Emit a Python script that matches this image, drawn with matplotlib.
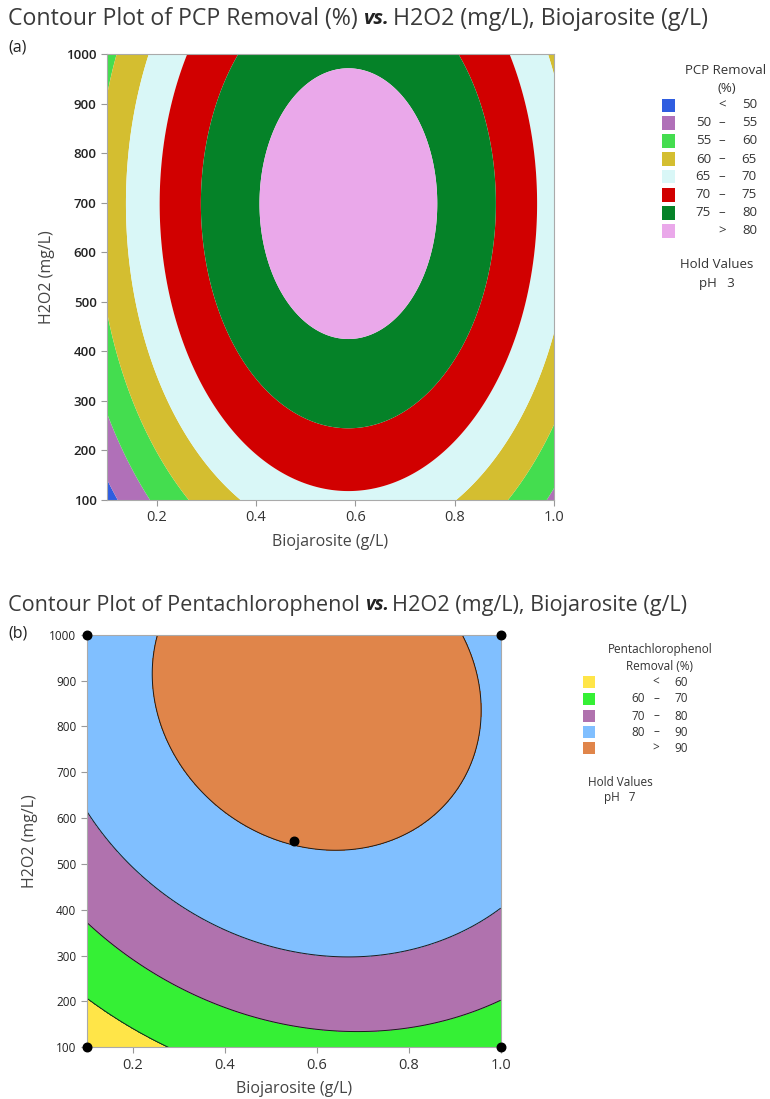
import matplotlib
matplotlib.use("Agg")
import matplotlib.pyplot as plt
from matplotlib.patches import Rectangle
import numpy as np

W, H = 770, 1099

# fitted quadratic response surfaces: z = peak - kx*(x-x0)^2 - ky*(y-y0)^2 - kxy*(x-x0)*(y-y0)
# (a) PCP removal, pH held at 3
a_peak = 82.85
a_center = (0.586, 698.0)
a_curv = (89.0, 3.82e-5, 0.0)
a_levels = [50, 55, 60, 65, 70, 75, 80]
a_colors = ["#2F5DE0", "#B070B8", "#44DD4F", "#D4BE30", "#D9F7F7", "#D10000", "#058228", "#EAA8EA"]
a_labels = [("", "<", "50"), ("50", "–", "55"), ("55", "–", "60"), ("60", "–", "65"),
            ("65", "–", "70"), ("70", "–", "75"), ("75", "–", "80"), ("", ">", "80")]

# (b) pentachlorophenol removal, pH held at 7
b_peak = 95.55
b_center = (0.600, 875.0)
b_curv = (44.0, 47.2e-6, 10.5e-3)
b_levels = [60, 70, 80, 90]
b_colors = ["#FFE548", "#35F035", "#B072AE", "#80BFFF", "#E0854A"]
b_labels = [("", "<", "60"), ("60", "–", "70"), ("70", "–", "80"), ("80", "–", "90"), ("", ">", "90")]

# design points shown on panel (b)
design_bio = [0.1, 0.1, 1.0, 1.0, 0.55]
design_h2o2 = [100, 1000, 100, 1000, 550]

x_ticks = [0.2, 0.4, 0.6, 0.8, 1.0]
y_ticks = list(range(100, 1001, 100))

FONT = "Open Sans"
plt.rcParams["font.family"] = [FONT, "DejaVu Sans"]


def fx(px):
    return px / W


def fy(py):
    return 1 - py / H


def surface(peak, center, curv, X, Y):
    dx = X - center[0]
    dy = Y - center[1]
    return peak - curv[0] * dx ** 2 - curv[1] * dy ** 2 - curv[2] * dx * dy


def title_with_vs(fig, x, y, before, after, size):
    r = fig.canvas.get_renderer()
    t1 = fig.text(x, y, before, fontsize=size, color="#3a3a3a", va="center")
    bb = t1.get_window_extent(r)
    t2 = fig.text(bb.x1 / fig.bbox.width, y, "vs.", fontsize=size - 2, color="#222222",
                  fontweight="bold", fontstyle="italic", va="center")
    bb2 = t2.get_window_extent(r)
    fig.text(bb2.x1 / fig.bbox.width + 0.004, y, after, fontsize=size, color="#3a3a3a", va="center")


def style_axes(ax, ytick_size, ytick_weight):
    ax.set_xlim(0.1, 1.0)
    ax.set_ylim(100, 1000)
    ax.set_xticks(x_ticks)
    ax.set_xticklabels([f"{v:.1f}" for v in x_ticks])
    ax.set_yticks(y_ticks)
    ax.tick_params(axis="x", labelsize=10.5, colors="#333333", length=4, color="#999999")
    ax.tick_params(axis="y", labelsize=ytick_size, colors="#222222", length=4, color="#999999")
    for lab in ax.get_yticklabels():
        lab.set_fontweight(ytick_weight)
    for s in ax.spines.values():
        s.set_color("#aaaaaa")
        s.set_linewidth(0.8)
    ax.set_xlabel("Biojarosite (g/L)", fontsize=11.5, color="#444444", labelpad=6)
    ax.set_ylabel("H2O2 (mg/L)", fontsize=11.5, color="#444444", labelpad=8)


def legend_block(fig, header, entries, colors, sq_x, sq_size, ys, cols, size, header_ys, hold_ys, ph):
    for i, ttl in enumerate(header):
        fig.text(fx(header_ys[i][0]), fy(header_ys[i][1]), ttl, fontsize=size, color="#333333",
                 ha="center", va="center")
    lo_x, dash_x, hi_x = cols
    for (lo, sym, hi), c, yy in zip(entries, colors, ys):
        fig.patches.append(Rectangle((fx(sq_x), fy(yy + sq_size / 2)), sq_size / W, sq_size / H,
                                     transform=fig.transFigure, facecolor=c, edgecolor="none"))
        if lo:
            fig.text(fx(lo_x), fy(yy), lo, fontsize=size, color="#333333", ha="right", va="center")
        fig.text(fx(dash_x), fy(yy), sym, fontsize=size, color="#333333", ha="center", va="center")
        fig.text(fx(hi_x), fy(yy), hi, fontsize=size, color="#333333", ha="right", va="center")
    fig.text(fx(hold_ys[0][0]), fy(hold_ys[0][1]), "Hold Values", fontsize=size, color="#333333",
             ha="center", va="center")
    fig.text(fx(hold_ys[1][0]), fy(hold_ys[1][1]), f"pH   {ph}", fontsize=size, color="#333333",
             ha="center", va="center")


fig = plt.figure(figsize=(W / 100, H / 100), dpi=100)
fig.patch.set_facecolor("white")

xg = np.linspace(0.1, 1.0, 400)
yg = np.linspace(100, 1000, 400)
X, Y = np.meshgrid(xg, yg)

# panel (a)
ax1 = fig.add_axes([fx(107), fy(500), (554 - 107) / W, (500 - 54) / H])
Za = surface(a_peak, a_center, a_curv, X, Y)
ax1.contourf(X, Y, Za, levels=[-1e9] + a_levels + [1e9], colors=a_colors, antialiased=True)
style_axes(ax1, 9.5, "semibold")

# panel (b)
ax2 = fig.add_axes([fx(86.7), fy(1047.3), (500.7 - 86.7) / W, (1047.3 - 634.7) / H])
Zb = surface(b_peak, b_center, b_curv, X, Y)
ax2.contourf(X, Y, Zb, levels=[-1e9] + b_levels + [1e9], colors=b_colors)
ax2.contour(X, Y, Zb, levels=b_levels, colors="#1a1a1a", linewidths=0.7)
ax2.scatter(design_bio, design_h2o2, s=38, color="black", zorder=5, clip_on=False)
style_axes(ax2, 8.5, "normal")

title_with_vs(fig, fx(8), fy(19),
              "Contour Plot of PCP Removal (%) ", "H2O2 (mg/L), Biojarosite (g/L)", 16.7)
title_with_vs(fig, fx(8), fy(605),
              "Contour Plot of Pentachlorophenol ", "H2O2 (mg/L), Biojarosite (g/L)", 15.6)
fig.text(fx(8), fy(47), "(a)", fontsize=11.5, color="#222222", va="center")
fig.text(fx(8), fy(634), "(b)", fontsize=11.5, color="#222222", va="center")

legend_block(fig, ["PCP Removal", "(%)"], a_labels, a_colors, 662, 13,
             [105, 123, 141, 159, 177, 195, 213, 231], (711, 722, 757), 9.5,
             [(726, 71), (727, 89)], [(717, 265), (717, 283)], 3)
legend_block(fig, ["Pentachlorophenol", "Removal (%)"], b_labels, b_colors, 583, 12,
             [682, 699, 716, 732, 748], (645, 656, 688), 8.5,
             [(660, 650), (660, 667)], [(620, 782), (620, 797)], 7)

fig.savefig("out.png", dpi=100)
